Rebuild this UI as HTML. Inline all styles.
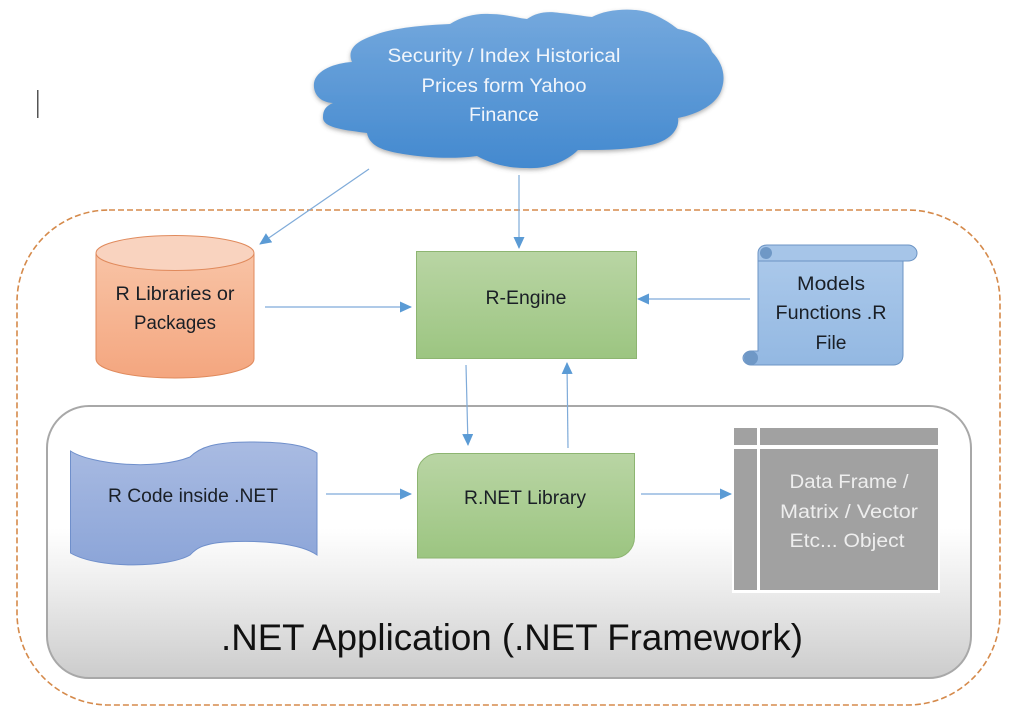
<!DOCTYPE html>
<html><head><meta charset="utf-8"><style>
html,body{margin:0;padding:0;background:#fff;width:1024px;height:728px;overflow:hidden}
svg{display:block}
text{font-family:"Liberation Sans",sans-serif;text-anchor:middle;font-size:19px;fill:#1a1f26}
.w{fill:#f0f5fb}
.g{fill:#eeeeee}
</style></head><body>
<svg width="1024" height="728" viewBox="0 0 1024 728" xmlns="http://www.w3.org/2000/svg">
<defs>
<linearGradient id="c" x1="0" y1="0" x2="0" y2="1"><stop offset="0" stop-color="#74a8dd"/><stop offset="1" stop-color="#4389cf"/></linearGradient>
<linearGradient id="o" x1="0" y1="0" x2="0" y2="1"><stop offset="0" stop-color="#f8c3a5"/><stop offset="1" stop-color="#f4a67f"/></linearGradient>
<linearGradient id="gr" x1="0" y1="0" x2="0" y2="1"><stop offset="0" stop-color="#b9d5a4"/><stop offset="1" stop-color="#9cc581"/></linearGradient>
<linearGradient id="b" x1="0" y1="0" x2="0" y2="1"><stop offset="0" stop-color="#aac8ea"/><stop offset="1" stop-color="#93b8e2"/></linearGradient>
<linearGradient id="p" x1="0" y1="0" x2="0" y2="1"><stop offset="0" stop-color="#a9bbe2"/><stop offset="1" stop-color="#8ca5d8"/></linearGradient>
<linearGradient id="net" x1="0" y1="0" x2="0" y2="1"><stop offset="0" stop-color="#ffffff"/><stop offset="0.45" stop-color="#ffffff"/><stop offset="0.65" stop-color="#eeeeee"/><stop offset="1" stop-color="#cccccc"/></linearGradient>
<filter id="s" x="-5%" y="-5%" width="110%" height="115%"><feDropShadow dx="0" dy="2" stdDeviation="2" flood-color="#555" flood-opacity=".45"/></filter>
<marker id="a" markerWidth="12" markerHeight="12" refX="11" refY="5.500" orient="auto" markerUnits="userSpaceOnUse"><path d="M0 0L12 5.500L0 11Z" fill="#5b9bd5"/></marker>
</defs>
<rect width="1024" height="728" fill="#fff"/>
<rect x="37" y="90" width="1.500" height="28" fill="#555"/>
<rect x="17" y="210" width="983" height="495" rx="92" fill="#fff" stroke="#d58a4b" stroke-width="1.600" stroke-dasharray="6 3"/>
<rect x="47" y="406" width="924" height="272" rx="42" fill="url(#net)" stroke="#a8a8a8" stroke-width="2"/>

<path filter="url(#s)" fill="url(#c)" d="M333 103C318 102 313 92 314 83C316 70 335 63 352 62C347 50 355 42 372 36C390 28 425 25 450 24C462 16 478 13 490 14C505 14 517 18 527 19C537 12 548 11 560 13C572 14 582 16 592 17C608 8 640 7 655 15C668 21 675 27 678 29C695 32 708 40 712 52C722 62 726 75 722 88C718 104 698 114 678 118C680 130 668 143 645 146C625 150 600 150 578 150C565 163 545 169 527 168C505 168 490 163 477 156C455 159 430 158 410 155C390 152 370 149 367 133C345 130 322 128 323 117C323 110 326 106 333 103Z"/>
<text class="w" x="504" y="62" textLength="233" lengthAdjust="spacingAndGlyphs">Security / Index Historical</text>
<text class="w" x="504" y="92" textLength="165" lengthAdjust="spacingAndGlyphs">Prices form Yahoo</text>
<text class="w" x="504" y="121" textLength="70" lengthAdjust="spacingAndGlyphs">Finance</text>

<g stroke="#7fabd9" stroke-width="1.200" fill="none">
<path d="M369 169L260 244" marker-end="url(#a)"/>
<path d="M519 175V248" marker-end="url(#a)"/>
<path d="M265 307H411" marker-end="url(#a)"/>
<path d="M750 299H638" marker-end="url(#a)"/>
<path d="M466 365L468 445" marker-end="url(#a)"/>
<path d="M568 448L567 363" marker-end="url(#a)"/>
<path d="M326 494H411" marker-end="url(#a)"/>
<path d="M641 494H731" marker-end="url(#a)"/>
</g>

<path d="M96 254V359C96 370 131 378 175 378C219 378 254 370 254 359V254Z" fill="url(#o)" stroke="#e08a5c" stroke-width="1"/>
<ellipse cx="175" cy="253" rx="79" ry="17.500" fill="#f9d3bf" stroke="#e08a5c" stroke-width="1"/>
<text x="175" y="300" textLength="119" lengthAdjust="spacingAndGlyphs">R Libraries or</text>
<text x="175" y="329" textLength="82" lengthAdjust="spacingAndGlyphs">Packages</text>

<rect x="416.500" y="251.500" width="220" height="107" fill="url(#gr)" stroke="#8db571" stroke-width="1"/>
<text x="526" y="304" textLength="81" lengthAdjust="spacingAndGlyphs">R-Engine</text>

<path d="M758 261V351H751C746 351 743 355 743 358C743 362 747 365 751 365H893C899 365 903 361 903 355V261Z" fill="url(#b)" stroke="#6c94c4" stroke-width="1"/>
<path d="M758 261V253C758 248 762 245 767 245H908C913 245 917 249 917 253C917 258 913 261 908 261Z" fill="#a6c5e8" stroke="#6c94c4" stroke-width="1"/>
<circle cx="766" cy="253" r="6" fill="#6f98c6"/>
<circle cx="751" cy="358" r="7" fill="#6f98c6"/>
<text x="831" y="290" textLength="68" lengthAdjust="spacingAndGlyphs">Models</text>
<text x="831" y="319" textLength="111" lengthAdjust="spacingAndGlyphs">Functions .R</text>
<text x="831" y="349" textLength="31" lengthAdjust="spacingAndGlyphs">File</text>

<path d="M70.500 451C90 464 155 471 190 457C200 447 215 442 250 442C285 442 305 445 317 453V555C300 543 260 540 225 542C200 544 195 550 190 555C170 567 100 570 70.500 553Z" fill="url(#p)" stroke="#6f8fcb" stroke-width="1"/>
<text x="193" y="502" textLength="170" lengthAdjust="spacingAndGlyphs">R Code inside .NET</text>

<path d="M417.500 558V473C417.500 462 427 453.500 438 453.500H634.500V537C634.500 549 625 558 614 558Z" fill="url(#gr)" stroke="#8db571" stroke-width="1"/>
<text x="525" y="504" textLength="122" lengthAdjust="spacingAndGlyphs">R.NET Library</text>

<rect x="732" y="426" width="208" height="167" fill="#fff"/>
<rect x="734" y="428" width="23" height="17" fill="#a1a1a1"/>
<rect x="760" y="428" width="178" height="17" fill="#a1a1a1"/>
<rect x="734" y="449" width="23" height="141" fill="#a1a1a1"/>
<rect x="760" y="449" width="178" height="141" fill="#a1a1a1"/>
<text class="g" x="849" y="488" textLength="119" lengthAdjust="spacingAndGlyphs">Data Frame /</text>
<text class="g" x="849" y="518" textLength="138" lengthAdjust="spacingAndGlyphs">Matrix / Vector</text>
<text class="g" x="847" y="547" textLength="115" lengthAdjust="spacingAndGlyphs">Etc...  Object</text>

<text x="512" y="650" style="font-size:37px;fill:#111" textLength="582" lengthAdjust="spacingAndGlyphs">.NET Application (.NET Framework)</text>
</svg>
</body></html>
